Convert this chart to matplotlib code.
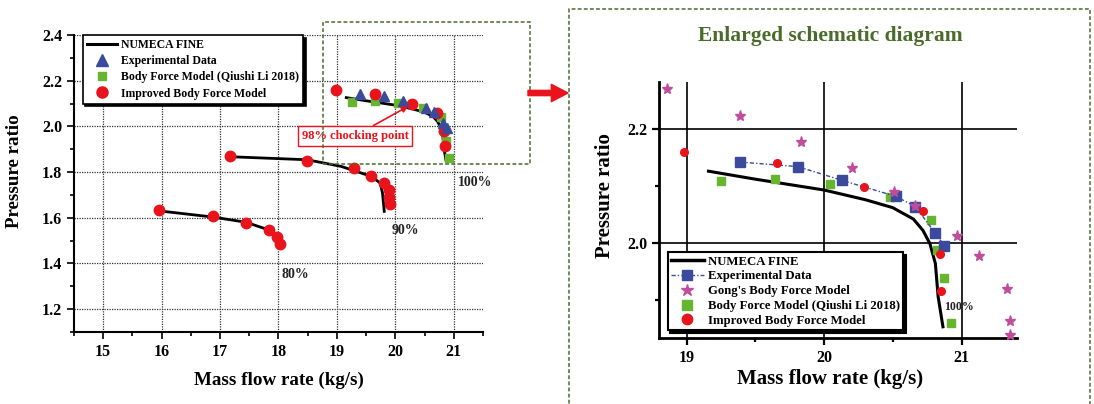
import matplotlib.pyplot as plt
from matplotlib.lines import Line2D
from matplotlib.patches import FancyArrowPatch, Rectangle
from matplotlib.ticker import MultipleLocator

plt.rcParams["font.family"] = ["Liberation Serif", "DejaVu Serif"]
plt.rcParams["font.weight"] = "bold"
plt.rcParams["axes.labelweight"] = "bold"

# 100% speed line
numeca_100_x = [19.16, 19.5, 20.0, 20.3, 20.5, 20.65, 20.72, 20.77, 20.81, 20.83, 20.865]
numeca_100_y = [2.126, 2.112, 2.093, 2.076, 2.062, 2.042, 2.022, 1.999, 1.964, 1.906, 1.853]
exp_x = [19.39, 19.81, 20.13, 20.52, 20.665, 20.81, 20.876]
exp_y = [2.142, 2.134, 2.110, 2.082, 2.064, 2.017, 1.995]
li2018_x = [19.25, 19.645, 20.04, 20.48, 20.78, 20.82, 20.87, 20.92]
li2018_y = [2.108, 2.113, 2.104, 2.080, 2.040, 1.988, 1.938, 1.860]
gong_x = [18.86, 19.39, 19.83, 20.20, 20.51, 20.66, 20.965, 21.13, 21.33, 21.35, 21.35]
gong_y = [2.271, 2.223, 2.177, 2.131, 2.089, 2.065, 2.012, 1.977, 1.919, 1.864, 1.839]
improved_100_x = [18.98, 19.655, 20.29, 20.72, 20.84, 20.85]
improved_100_y = [2.160, 2.140, 2.098, 2.057, 1.980, 1.916]

# 90% speed line
numeca_90_x = [17.29, 18.49, 19.07, 19.59, 19.74, 19.78, 19.81]
numeca_90_y = [1.866, 1.854, 1.825, 1.781, 1.752, 1.708, 1.628]
improved_90_x = [17.17, 18.49, 19.30, 19.58, 19.80, 19.89, 19.89, 19.91]
improved_90_y = [1.872, 1.848, 1.816, 1.784, 1.752, 1.720, 1.690, 1.661]

# 80% speed line
numeca_80_x = [16.03, 16.885, 17.45, 17.83, 17.95]
numeca_80_y = [1.628, 1.603, 1.580, 1.547, 1.518]
improved_80_x = [15.96, 16.885, 17.45, 17.83, 17.98, 18.02]
improved_80_y = [1.632, 1.606, 1.577, 1.547, 1.515, 1.485]

# speed labels (text, x, y) on the overview panel
speed_labels = [("100%", 21.07, 1.754), ("90%", 19.93, 1.543), ("80%", 18.05, 1.351)]

RED = "#e8131b"
BLUE = "#3b4a9b"
GREEN = "#66b52e"
PINK = "#c04c9e"
OLIVE = "#4a6b2a"
EXP_DASH = (0, (3, 1.5, 1, 1.5))

fig = plt.figure(figsize=(10.94, 4.04), dpi=100)
W, H = 1094, 404


def px_axes(l, r, t, b):
    return fig.add_axes([l / W, 1 - b / H, (r - l) / W, (b - t) / H])


def style_axes(ax, lw, size):
    for side in ("top", "right"):
        ax.spines[side].set_visible(False)
    for side in ("left", "bottom"):
        ax.spines[side].set_linewidth(lw)
    ax.tick_params(which="major", direction="out", length=5, width=lw * 0.8,
                   labelsize=size)
    ax.tick_params(which="minor", direction="out", length=3, width=lw * 0.8)
    for lab in ax.get_xticklabels() + ax.get_yticklabels():
        lab.set_fontweight("bold")


def shadow_legend(ax, handles, labels, size, lw, **kw):
    leg = ax.legend(handles, labels, borderaxespad=0, frameon=True, fancybox=False,
                    shadow={"color": "black", "alpha": 1}, handlelength=2.6,
                    handletextpad=0.3, prop={"weight": "bold", "size": size}, **kw)
    leg.get_frame().set_edgecolor("black")
    leg.get_frame().set_linewidth(lw)
    leg.set_zorder(10)
    return leg


# ---- overview panel ----
ax1 = px_axes(74, 483, 35, 332)
ax1.set_xlim(14.5, 21.5)
ax1.set_ylim(1.1, 2.4)
ax1.xaxis.set_major_locator(MultipleLocator(1))
ax1.xaxis.set_minor_locator(MultipleLocator(0.5))
ax1.yaxis.set_major_locator(MultipleLocator(0.2))
ax1.yaxis.set_minor_locator(MultipleLocator(0.1))
ax1.grid(True, which="major", color="#333333", linestyle=(0, (1, 1)), linewidth=0.9)
ax1.set_axisbelow(True)

for nx, ny in [(numeca_100_x, numeca_100_y), (numeca_90_x, numeca_90_y),
               (numeca_80_x, numeca_80_y)]:
    ax1.plot(nx, ny, color="black", linewidth=2, zorder=3)
ax1.plot(li2018_x, li2018_y, "s", color=GREEN, markersize=6, zorder=4)
for ix, iy in [(improved_100_x, improved_100_y), (improved_90_x, improved_90_y),
               (improved_80_x, improved_80_y)]:
    ax1.plot(ix, iy, "o", color=RED, markersize=7.5, zorder=5)
ax1.plot(exp_x, exp_y, "^", color=BLUE, markersize=7.5, zorder=6)

for text, tx, ty in speed_labels:
    ax1.text(tx, ty, text, ha="left", va="center", fontsize=10, color="#222222",
             fontweight="bold")

ax1.annotate("98% chocking point", xy=(20.22, 2.088), xytext=(19.31, 1.959),
             ha="center", va="center", fontsize=9, color=RED, fontweight="bold",
             bbox=dict(boxstyle="square,pad=0.3", fc="white", ec=RED, lw=1),
             arrowprops=dict(arrowstyle="-|>,head_length=0.4,head_width=0.2",
                             color=RED, lw=1.2, shrinkA=0, shrinkB=0),
             zorder=8)

style_axes(ax1, 1.5, 11.5)
ax1.set_xlabel("Mass flow rate (kg/s)", fontsize=13.7)
ax1.set_ylabel("Pressure ratio", fontsize=13.7)
ax1.xaxis.set_label_coords(0.5, -0.135)
ax1.yaxis.set_label_coords(-0.125, 0.54)

handles1 = [
    Line2D([], [], color="black", linewidth=2.2),
    Line2D([], [], marker="^", linestyle="none", color=BLUE, markersize=8),
    Line2D([], [], marker="s", linestyle="none", color=GREEN, markersize=6),
    Line2D([], [], marker="o", linestyle="none", color=RED, markersize=8),
]
labels1 = ["NUMECA FINE", "Experimental Data", "Body Force Model (Qiushi Li 2018)",
           "Improved Body Force Model"]
shadow_legend(ax1, handles1, labels1, 8.5, 1.2, loc="upper left",
              bbox_to_anchor=(0.021, 1.0), labelspacing=0.35, borderpad=0.35)

# ---- enlarged panel ----
ax2 = px_axes(659, 1016.5, 82, 338)
ax2.set_xlim(18.8, 21.4)
ax2.set_ylim(1.8333, 2.2825)
ax2.xaxis.set_major_locator(MultipleLocator(1))
ax2.xaxis.set_minor_locator(MultipleLocator(0.5))
ax2.yaxis.set_major_locator(MultipleLocator(0.2))
ax2.yaxis.set_minor_locator(MultipleLocator(0.1))
ax2.grid(True, which="major", color="black", linestyle="-", linewidth=1.2)
ax2.set_axisbelow(True)

ax2.plot(numeca_100_x, numeca_100_y, color="black", linewidth=2.2, zorder=3)
ax2.plot(li2018_x, li2018_y, "s", color=GREEN, markersize=6, zorder=4, clip_on=False)
ax2.plot(exp_x, exp_y, color=BLUE, linestyle=EXP_DASH, linewidth=1,
         marker="s", markersize=6.5, zorder=5)
ax2.plot(gong_x, gong_y, "*", color=PINK, markersize=8, zorder=6, clip_on=False)
ax2.plot(improved_100_x, improved_100_y, "o", color=RED, markersize=5.5, zorder=7)
ax2.text(20.87, 1.888, "100%", ha="left", va="center", fontsize=8.5, color="#222222",
         fontweight="bold")

style_axes(ax2, 2, 11.5)
ax2.set_xlabel("Mass flow rate (kg/s)", fontsize=15)
ax2.set_ylabel("Pressure ratio", fontsize=15)
ax2.xaxis.set_label_coords(0.478, -0.121)
ax2.yaxis.set_label_coords(-0.123, 0.557)

handles2 = [
    Line2D([], [], color="black", linewidth=2.5),
    Line2D([], [], color=BLUE, linestyle=EXP_DASH, linewidth=1, marker="s", markersize=7),
    Line2D([], [], marker="*", linestyle="none", color=PINK, markersize=9),
    Line2D([], [], marker="s", linestyle="none", color=GREEN, markersize=6.5),
    Line2D([], [], marker="o", linestyle="none", color=RED, markersize=7.5),
]
labels2 = ["NUMECA FINE", "Experimental Data", "Gong's Body Force Model",
           "Body Force Model (Qiushi Li 2018)", "Improved Body Force Model"]
shadow_legend(ax2, handles2, labels2, 9.2, 1.5, loc="lower left",
              bbox_to_anchor=(0.024, 0.031), labelspacing=0.22, borderpad=0.25)

fig.text(830 / W, 1 - 36 / H, "Enlarged schematic diagram", ha="center", va="center",
         fontsize=15.5, color=OLIVE, fontweight="bold")

# zoom frames and connecting arrow, in figure pixels
for (l, t, r, b) in [(323, 22, 530, 164), (569, 9, 1090, 420)]:
    fig.add_artist(Rectangle((l / W, 1 - b / H), (r - l) / W, (b - t) / H,
                             transform=fig.transFigure, fill=False, edgecolor=OLIVE,
                             linewidth=1.1, linestyle=(0, (2.5, 1.5))))

fig.add_artist(FancyArrowPatch(
    (528 / W, 1 - 93 / H), (568 / W, 1 - 93 / H), transform=fig.transFigure,
    arrowstyle="simple,head_length=1.2,head_width=1.25,tail_width=0.38",
    mutation_scale=10, color=RED, shrinkA=0, shrinkB=0))

fig.savefig("out.png", dpi=100)
